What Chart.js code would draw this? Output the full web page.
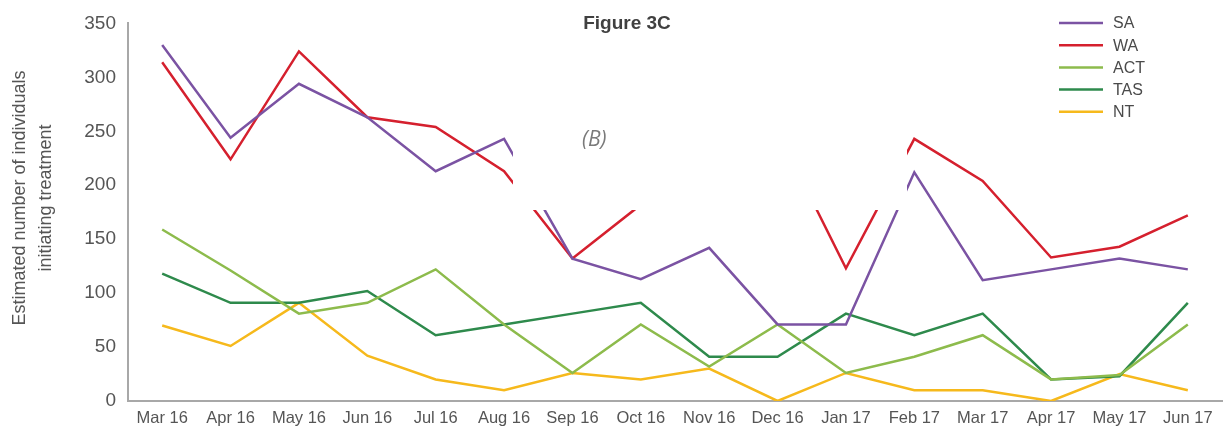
<!DOCTYPE html>
<html lang="en">
<head>
    <meta charset="UTF-8">
    <title>Figure 3C</title>
    <script src="https://cdn.jsdelivr.net/npm/chart.js"></script>
    <style>
        body {
            margin: 0;
            padding: 0;
            background-color: #fff;
        }
        #wrap {
            width: 1224px;
            height: 430px;
        }
    </style>
</head>
<body>
    <div id="wrap"><canvas id="fig3c"></canvas></div>

    <script>
        // data
        const months = ['Mar 16', 'Apr 16', 'May 16', 'Jun 16', 'Jul 16', 'Aug 16', 'Sep 16', 'Oct 16',
                        'Nov 16', 'Dec 16', 'Jan 17', 'Feb 17', 'Mar 17', 'Apr 17', 'May 17', 'Jun 17'];
        const saValues  = [330, 244, 294, 263, 213, 243, 132, 113, 142, 71, 71, 212, 112, 122, 132, 122];
        const waValues  = [314, 224, 324, 263, 254, 213, 132, 182, 205, 250, 123, 243, 204, 133, 143, 172];
        const actValues = [159, 121, 81, 91, 122, 71, 26, 71, 32, 71, 26, 41, 61, 20, 24, 71];
        const tasValues = [118, 91, 91, 102, 61, 71, 81, 91, 41, 41, 81, 61, 81, 20, 23, 91];
        const ntValues  = [70, 51, 91, 42, 20, 10, 26, 20, 30, 0, 26, 10, 10, 0, 25, 10];
        const yTicks = [0, 50, 100, 150, 200, 250, 300, 350];
        const yTitle = ['Estimated number of individuals', 'initiating treatment'];

        const textGrey = '#555555';
        const axisGrey = '#a8a8a8';
        const font = '"Liberation Sans", Arial, sans-serif';

        function series(label, values, color) {
            return {
                label: label,
                data: values,
                borderColor: color,
                backgroundColor: color,
                borderWidth: 2.5,
                pointRadius: 0,
                tension: 0,
                fill: false
            };
        }

        // title, y title, legend and the white "(B)" patch over the lines
        const overlay = {
            id: 'overlay',
            afterDatasetsDraw(chart) {
                const ctx = chart.ctx;
                ctx.save();
                // white patch
                ctx.fillStyle = '#ffffff';
                ctx.fillRect(513, 98, 394, 112);
                ctx.fillStyle = '#7a7a7a';
                ctx.font = 'italic 21px "Open Sans", sans-serif';
                ctx.textBaseline = 'middle';
                ctx.textAlign = 'left';
                ctx.fillText('(B)', 582, 140);

                // title
                ctx.fillStyle = '#404040';
                ctx.font = 'bold 19px ' + font;
                ctx.textAlign = 'center';
                ctx.fillText('Figure 3C', 627, 24);

                // y axis title
                ctx.save();
                ctx.translate(0, 198);
                ctx.rotate(-Math.PI / 2);
                ctx.fillStyle = textGrey;
                ctx.font = '18px ' + font;
                yTitle.forEach((line, i) => ctx.fillText(line, 0, 20 + i * 26));
                ctx.restore();

                // legend
                ctx.font = '16px ' + font;
                ctx.textAlign = 'left';
                chart.data.datasets.forEach((ds, i) => {
                    const y = 23 + i * 22.2;
                    ctx.strokeStyle = ds.borderColor;
                    ctx.lineWidth = 2.5;
                    ctx.beginPath();
                    ctx.moveTo(1059, y);
                    ctx.lineTo(1103, y);
                    ctx.stroke();
                    ctx.fillStyle = '#4a4a4a';
                    ctx.fillText(ds.label, 1113, y + 1);
                });
                ctx.restore();
            }
        };

        const ctx = document.getElementById('fig3c').getContext('2d');
        new Chart(ctx, {
            type: 'line',
            data: {
                labels: months,
                datasets: [
                    series('SA', saValues, '#7b53a3'),
                    series('WA', waValues, '#d5202e'),
                    series('ACT', actValues, '#8dbb4c'),
                    series('TAS', tasValues, '#2e8a4c'),
                    series('NT', ntValues, '#f6b91c')
                ]
            },
            options: {
                responsive: true,
                maintainAspectRatio: false,
                animation: false,
                layout: {
                    padding: { top: 22, right: 2, left: 0, bottom: 0 }
                },
                plugins: {
                    legend: { display: false },
                    tooltip: { enabled: false }
                },
                scales: {
                    x: {
                        offset: true,
                        grid: { display: false, drawTicks: false },
                        border: { color: axisGrey, width: 2 },
                        ticks: {
                            color: textGrey,
                            font: { family: font, size: 16.5 },
                            padding: 8,
                            maxRotation: 0,
                            autoSkip: false
                        },
                        afterFit(scale) { scale.height = 29; }
                    },
                    y: {
                        min: 0,
                        max: 350,
                        afterBuildTicks(scale) {
                            scale.ticks = yTicks.map(v => ({ value: v }));
                        },
                        grid: { display: false, drawTicks: false },
                        border: { color: axisGrey, width: 2 },
                        ticks: {
                            color: textGrey,
                            font: { family: font, size: 19 },
                            padding: 12
                        },
                        afterFit(scale) { scale.width = 128; }
                    }
                }
            },
            plugins: [overlay]
        });
    </script>
</body>
</html>
